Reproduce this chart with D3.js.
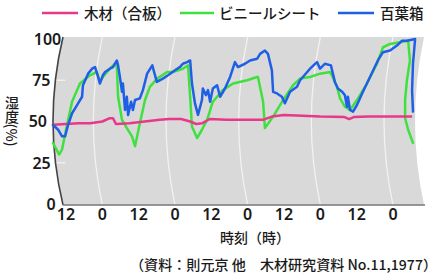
<!DOCTYPE html>
<html><head><meta charset="utf-8">
<script src="https://cdn.jsdelivr.net/npm/d3@7"></script>
<style>html,body{margin:0;padding:0;background:#fff;}svg{display:block;}</style>
</head><body>
<svg id="c" width="448" height="275"></svg>
<script>
// ---- data (hour, humidity %) ----
const seriesNames = ["木材（合板）", "ビニールシート", "百葉箱"];
const xTickHours = [12, 24, 36, 48, 60, 72, 84, 96, 108, 120];
const xTickLabels = ["12", "0", "12", "0", "12", "0", "12", "0", "12", "0"];
const yTicks = [0, 25, 50, 75, 100];

const wood = [[7.7,48],[12,48.5],[16,49],[20,49],[24,50],[26.5,52],[27.5,52],[28.5,48.5],[33,49],[38,50],[43,51],[46,51.5],[50,51.5],[53,50],[55,48.5],[57,49],[59.5,51.5],[65,51],[72,51],[77,51],[80,53],[84,54],[90,53.5],[96,53],[104,52.7],[105.5,51.5],[107,52.7],[112,53],[120,53],[126,53]];

const vinyl = [[7.7,37],[9.7,30],[10.7,33],[12,45],[14,62],[16.6,73],[19.9,78],[22.2,80],[23.2,74],[24.2,77],[26.5,82],[28.2,85],[28.8,83],[29.2,65],[30.5,51],[32.1,46],[33.8,41],[34.8,35],[36.4,49],[38.1,63],[39.7,71],[42.1,76],[45.4,80],[47.3,80],[50.6,82],[52.3,84],[53,65],[53.6,47],[55.3,40],[56.9,45],[58.6,51],[60.5,62],[63.8,69],[67.2,73],[71.8,75],[75.1,77],[75.4,77],[77.1,62],[77.7,46],[80.4,53],[83.7,63],[87,72],[89.3,76],[92.6,77],[95.9,79],[99.2,80],[99.8,78],[101.5,71],[102.5,64],[104.1,59],[105.8,57],[108.1,63],[111.4,73],[114.7,85],[116.7,95],[119,97],[122.3,98],[125,99],[125.6,87],[124.6,75],[124,63],[124,52],[125,45],[126.6,37]];

const screen = [[7.7,48],[9.4,45],[10.7,41],[11.7,41],[12.7,48],[14,55],[15,58],[16,61],[17.3,65],[17.6,72],[19.3,79],[20.6,82],[21.6,83],[22.6,77],[23.2,73],[24.2,78],[24.9,80],[26.5,82],[27.5,83],[28.8,87],[29.2,84],[29.8,77],[30.5,68],[30.8,73],[31.5,57],[32.1,65],[32.5,54],[33.5,62],[34.1,57],[34.8,63],[36.4,64],[37.4,69],[38.8,79],[40.5,84],[42,74],[44,76],[45.7,78],[48,81],[49.6,83],[50.6,85],[52,86],[53,87],[53.6,73],[54.6,61],[55.6,54],[56.9,63],[57.2,70],[58.2,66],[58.9,69],[59.6,62],[60.5,70],[61.9,72],[62.9,65],[64.5,70],[66.2,77],[67.8,86],[68.8,83],[71.1,85],[72.8,87],[75.1,88],[76.1,91],[77.7,93],[78.7,91],[80,81],[80.4,68],[81.7,67],[83.3,65],[84.3,61],[86,68],[88.3,71],[89.3,75],[92.6,82],[94.9,86],[95.9,82],[97.5,85],[99.5,84],[100.8,74],[101.8,70],[103.2,68],[104.1,66],[104.8,59],[105.1,65],[105.8,57],[106.8,56],[108.1,60],[109.8,67],[112.4,77],[115,87],[116.7,92],[119,93],[121.3,96],[123,99],[124.6,99],[127.3,100],[126.6,85],[126.3,69],[126.6,56]];

const colors = ["#e8388a", "#3fe03f", "#1f5fe6"];

// ---- drawing ----
const svg = d3.select("#c");
const x = d3.scaleLinear().domain([12, 120]).range([66, 393]);
const y = d3.scaleLinear().domain([0, 100]).range([204, 39]);

const pTop = 37, pBot = 205, midY = (pTop + pBot) / 2, half = (pBot - pTop) / 2;
const leftX = 63, bend = 10;
const edgeX = yy => leftX - bend * (1 - Math.pow((yy - midY) / half, 2));

// panel
const rightX = 424, rbend = 9;
svg.append("path")
  .attr("d", `M${leftX},${pTop} L${rightX},${pTop} Q${rightX - 2 * rbend},${midY} ${rightX},${pBot} L${leftX},${pBot} Q${leftX - 2 * bend},${midY} ${leftX},${pTop} Z`)
  .attr("fill", "#d9d9d9");

// white curved grid lines at day boundaries
xTickHours.forEach((h, i) => {
  if (xTickLabels[i] !== "0") return;
  const X = x(h);
  svg.append("path")
    .attr("d", `M${X},${pTop} Q${X - 18},${midY} ${X},${pBot}`)
    .attr("fill", "none").attr("stroke", "#f2f2f2").attr("stroke-width", 1.3);
});
// small white ticks inside left edge
[25, 75].forEach(v => {
  const yy = y(v), ex = edgeX(yy);
  svg.append("line").attr("x1", ex + 1).attr("x2", ex + 10).attr("y1", yy).attr("y2", yy)
    .attr("stroke", "#f2f2f2").attr("stroke-width", 1.3);
});

// axes lines
svg.append("path")
  .attr("d", `M${leftX},${pTop} Q${leftX - 2 * bend},${midY} ${leftX},${pBot}`)
  .attr("fill", "none").attr("stroke", "#444").attr("stroke-width", 1.6);
svg.append("line").attr("x1", leftX).attr("x2", rightX + 1).attr("y1", pBot).attr("y2", pBot)
  .attr("stroke", "#777").attr("stroke-width", 1.6);

// series
const line = d3.line().x(d => x(d[0])).y(d => y(d[1]));
[[vinyl, 1], [wood, 0], [screen, 2]].forEach(([data, ci]) => {
  svg.append("path").datum(data).attr("d", line)
    .attr("fill", "none").attr("stroke", colors[ci]).attr("stroke-width", 2.5)
    .attr("stroke-linejoin", "round").attr("stroke-linecap", "round");
});

// y tick labels
const numFont = "Noto Sans, sans-serif";
yTicks.forEach(v => {
  const yy = y(v);
  const t = Math.abs((yy - midY) / half);
  const xr = 47 + 15 * t * t - (v === 0 ? 6 : 0);
  svg.append("text").attr("x", xr).attr("y", yy).attr("dy", "0.36em")
    .attr("text-anchor", "end").attr("font-family", numFont).attr("font-size", 16)
    .attr("font-weight", 600).attr("fill", "#1a1a1a").text(v);
});
// x tick labels
xTickHours.forEach((h, i) => {
  svg.append("text").attr("x", x(h)).attr("y", 220)
    .attr("text-anchor", "middle").attr("font-family", numFont).attr("font-size", 16)
    .attr("font-weight", 600).attr("fill", "#1a1a1a").text(xTickLabels[i]);
});

const jp = "Noto Sans CJK JP, sans-serif";
// legend
const legendX = [[42, 78, 84], [180, 214, 219], [338, 374, 380]];
seriesNames.forEach((n, i) => {
  const [a, b, tx] = legendX[i];
  svg.append("line").attr("x1", a).attr("x2", b).attr("y1", 13).attr("y2", 13)
    .attr("stroke", colors[i]).attr("stroke-width", 2.4);
  svg.append("text").attr("x", tx).attr("y", 18.5).attr("font-family", jp)
    .attr("font-size", 14.5).attr("font-weight", 500).attr("fill", "#1a1a1a").text(n);
});

// y title (vertical writing)
svg.append("text").attr("x", 12).attr("y", 121).attr("text-anchor", "middle")
  .style("writing-mode", "vertical-rl").style("text-orientation", "mixed")
  .attr("font-family", jp).attr("font-size", 14).attr("font-weight", 500).attr("fill", "#1a1a1a")
  .text("湿度(%)");

// x title
svg.append("text").attr("x", 255).attr("y", 243).attr("text-anchor", "middle")
  .attr("font-family", jp).attr("font-size", 14).attr("font-weight", 500).attr("fill", "#1a1a1a").text("時刻（時）");
// source
svg.append("text").attr("x", 130).attr("y", 270).attr("textLength", 307).attr("lengthAdjust", "spacingAndGlyphs")
  .attr("font-family", jp).attr("font-size", 14).attr("font-weight", 500).attr("fill", "#1a1a1a")
  .text("（資料：則元京 他　木材研究資料 No.11,1977）");
</script>
</body></html>
